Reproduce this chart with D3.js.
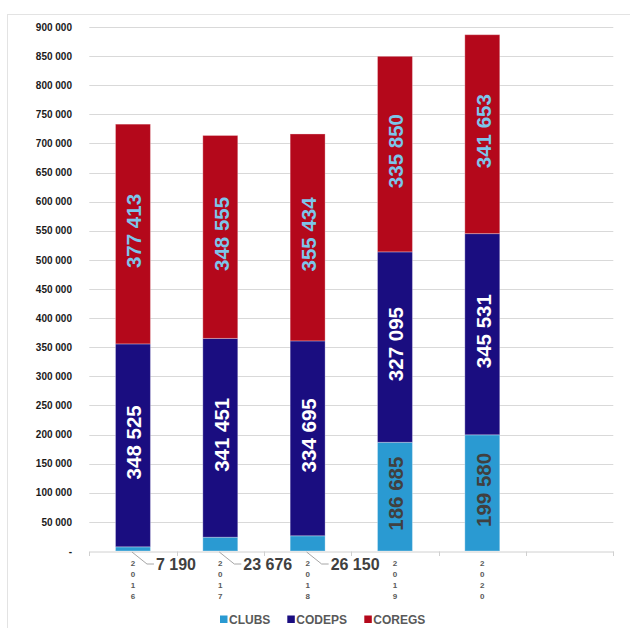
<!DOCTYPE html>
<html>
<head>
<meta charset="utf-8">
<script src="https://cdn.jsdelivr.net/npm/d3@7/dist/d3.min.js"></script>
<style>
  html, body { margin: 0; padding: 0; background: #fff; overflow: hidden; }
  svg { display: block; font-family: "Liberation Sans", Arial, sans-serif; }
</style>
</head>
<body>
<svg id="chart" width="630" height="628"></svg>
<script>
// data
var years = ["2016", "2017", "2018", "2019", "2020"];
var clubs = [7190, 23676, 26150, 186685, 199580];
var codeps = [348525, 341451, 334695, 327095, 345531];
var coregs = [377413, 348555, 355434, 335850, 341653];
var seriesNames = ["CLUBS", "CODEPS", "COREGS"];
var yTicks = [0, 50000, 100000, 150000, 200000, 250000, 300000, 350000, 400000,
  450000, 500000, 550000, 600000, 650000, 700000, 750000, 800000, 850000, 900000];

var colors = { CLUBS: "#2a9ad2", CODEPS: "#1a0d80", COREGS: "#b4081b" };
var labelColors = { CLUBS: "#404040", CODEPS: "#ffffff", COREGS: "#7cc5ea" };

var svg = d3.select("#chart");

// frame
svg.append("rect")
  .attr("x", 7.5).attr("y", 14.5)
  .attr("width", 700).attr("height", 700)
  .attr("fill", "none").attr("stroke", "#e3e3e3").attr("stroke-width", 1);

var rows = years.map(function (y, i) {
  return { year: y, CLUBS: clubs[i], CODEPS: codeps[i], COREGS: coregs[i] };
});

// one empty slot after 2020, like the original
var x = d3.scaleBand().domain(years.concat([" "])).range([89.3, 613.3]).padding(0);
var y = d3.scaleLinear().domain([0, 900000]).range([551, 27]);
var barW = x.bandwidth() * 0.4;

function fmt(v) {
  return d3.format(",")(v).replace(/,/g, " ");
}

// grid lines
svg.append("g").selectAll("line")
  .data(yTicks.filter(function (d) { return d > 0; }))
  .join("line")
  .attr("x1", 89.3).attr("x2", 613.3)
  .attr("y1", function (d) { return Math.round(y(d)) + 0.5; })
  .attr("y2", function (d) { return Math.round(y(d)) + 0.5; })
  .attr("stroke", "#d9d9d9").attr("stroke-width", 1);

// y axis labels
var yAxis = d3.axisLeft(y).tickValues(yTicks).tickSize(0).tickPadding(0)
  .tickFormat(function (d) { return d === 0 ? "-" : fmt(d); });
var gy = svg.append("g").attr("transform", "translate(72,0)").call(yAxis);
gy.select(".domain").remove();
gy.selectAll("text")
  .attr("font-size", 10).attr("font-weight", "bold").attr("fill", "#1a1a1a")
  .attr("font-family", "Liberation Sans, Arial, sans-serif");

// stacked bars
var stack = d3.stack().keys(seriesNames)(rows);

var layers = svg.append("g").selectAll("g")
  .data(stack)
  .join("g")
  .attr("fill", function (d) { return colors[d.key]; });

layers.selectAll("rect")
  .data(function (d) { return d; })
  .join("rect")
  .attr("x", function (d) { return x(d.data.year) + (x.bandwidth() - barW) / 2; })
  .attr("y", function (d) { return y(d[1]); })
  .attr("width", barW)
  .attr("height", function (d) { return y(d[0]) - y(d[1]); })
  .attr("stroke", "#ffffff").attr("stroke-opacity", 0.3).attr("stroke-width", 1);

// x axis
var xAxis = d3.axisBottom(x).tickSize(0).tickFormat("");
var gx = svg.append("g").attr("transform", "translate(0,551.5)").call(xAxis);
gx.select(".domain").attr("stroke", "#d0d0d0");
svg.append("g").selectAll("line")
  .data(x.domain().concat(["end"]))
  .join("line")
  .attr("x1", function (d, i) { return Math.round(89.3 + i * x.step()) + 0.5; })
  .attr("x2", function (d, i) { return Math.round(89.3 + i * x.step()) + 0.5; })
  .attr("y1", 551.5).attr("y2", 556)
  .attr("stroke", "#d0d0d0");

// year labels, one character per line
var yearG = svg.append("g").selectAll("text")
  .data(years)
  .join("text")
  .attr("x", function (d) { return x(d) + x.bandwidth() / 2; })
  .attr("text-anchor", "middle")
  .attr("font-size", 8).attr("font-weight", "bold").attr("fill", "#595959");
yearG.selectAll("tspan")
  .data(function (d) { return d.split(""); })
  .join("tspan")
  .attr("x", function () { return d3.select(this.parentNode).attr("x"); })
  .attr("y", function (d, i) { return 566 + i * 11; })
  .text(function (d) { return d; });

// value labels
var minInside = 60000;
stack.forEach(function (layer) {
  layer.forEach(function (d) {
    var v = d[1] - d[0];
    var cx = x(d.data.year) + x.bandwidth() / 2;
    if (v >= minInside) {
      var cy = (y(d[0]) + y(d[1])) / 2 - 3;
      svg.append("text")
        .attr("transform", "translate(" + (cx + 1) + "," + cy + ") rotate(-90)")
        .attr("text-anchor", "middle")
        .attr("dominant-baseline", "central")
        .attr("font-size", 20.5).attr("font-weight", "bold")
        .attr("fill", labelColors[layer.key])
        .text(fmt(v));
    } else {
      // small values: leader line and label below the axis
      var x0 = cx - 1, y0 = y(0) + 1;
      svg.append("polyline")
        .attr("points", [[x0, y0], [x0 + 15, y0 + 12], [x0 + 22, y0 + 12]].join(" "))
        .attr("fill", "none").attr("stroke", "#a6a6a6").attr("stroke-width", 1);
      svg.append("text")
        .attr("x", x0 + 24).attr("y", y0 + 12)
        .attr("dominant-baseline", "central")
        .attr("font-size", 16).attr("font-weight", "bold").attr("fill", "#404040")
        .text(fmt(v));
    }
  });
});

// legend
var legendX = [220, 287.3, 364.3];
var lg = svg.append("g").selectAll("g")
  .data(seriesNames)
  .join("g")
  .attr("transform", function (d, i) { return "translate(" + legendX[i] + ",615.5)"; });
lg.append("rect")
  .attr("width", 7.5).attr("height", 7.5)
  .attr("fill", function (d) { return colors[d]; });
lg.append("text")
  .attr("x", 9).attr("y", 8.5)
  .attr("font-size", 12).attr("font-weight", "bold").attr("fill", "#595959")
  .text(function (d) { return d; });
</script>
</body>
</html>
